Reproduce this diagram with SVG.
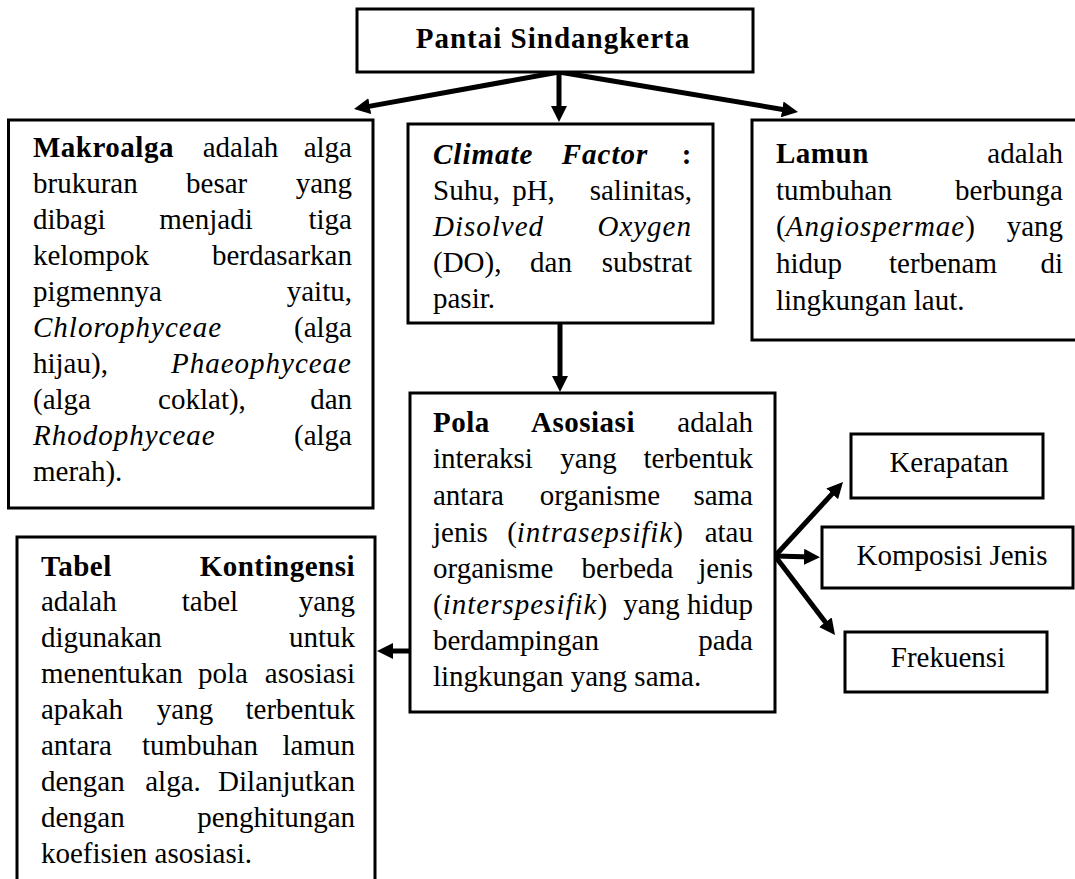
<svg xmlns="http://www.w3.org/2000/svg" width="1075" height="879" viewBox="0 0 1075 879">
<style>
.box{fill:#fff;stroke:#000;stroke-width:3}
.t{font-family:"Liberation Serif","Times New Roman",serif;font-size:29px;fill:#000}
.b{font-weight:bold;letter-spacing:0.5px}
.i{font-style:italic;letter-spacing:1px}
.e{text-anchor:end}
.m{text-anchor:middle}
.conn{stroke:#000;stroke-width:5;fill:none;marker-end:url(#ah)}
</style>
<defs>
<marker id="ah" markerWidth="16" markerHeight="16" refX="8" refY="8" orient="auto" markerUnits="userSpaceOnUse">
<path d="M0,0 L16,8 L0,16 Z" fill="#000"/>
</marker>
</defs>
<rect width="1075" height="879" fill="#fff"/>

<g id="connectors">
<line class="conn" x1="559" y1="72" x2="361.9" y2="107.6"/>
<line class="conn" x1="559" y1="72" x2="559" y2="114"/>
<line class="conn" x1="559" y1="72" x2="790.1" y2="110.7"/>
<line class="conn" x1="560" y1="323" x2="560" y2="384"/>
<line class="conn" x1="410" y1="651" x2="385" y2="651"/>
<line class="conn" x1="775" y1="556" x2="837.6" y2="487.9"/>
<line class="conn" x1="775" y1="556" x2="812" y2="557"/>
<line class="conn" x1="775" y1="556" x2="830.2" y2="628.6"/>
</g>

<g id="pantai">
<rect class="box" x="357" y="9" width="396" height="63"/>
<text class="t b m" x="553" y="48" style="letter-spacing:1px">Pantai Sindangkerta</text>
</g>

<g id="makroalga">
<rect class="box" x="8.5" y="120" width="364.5" height="388"/>
<text class="t b" x="33" y="157">Makroalga</text>
<text class="t m" x="240.5" y="157">adalah</text>
<text class="t e" x="352" y="157">alga</text>
<text class="t" x="33" y="193">brukuran</text>
<text class="t m" x="216.7" y="193">besar</text>
<text class="t e" x="352" y="193">yang</text>
<text class="t" x="33" y="229">dibagi</text>
<text class="t m" x="206" y="229">menjadi</text>
<text class="t e" x="352" y="229">tiga</text>
<text class="t" x="33" y="265">kelompok</text>
<text class="t e" x="352" y="265">berdasarkan</text>
<text class="t" x="33" y="301">pigmennya</text>
<text class="t e" x="352" y="301">yaitu,</text>
<text class="t i" x="33" y="337">Chlorophyceae</text>
<text class="t e" x="352" y="337">(alga</text>
<text class="t" x="33" y="373">hijau),</text>
<text class="t i e" x="352" y="373">Phaeophyceae</text>
<text class="t" x="33" y="409">(alga</text>
<text class="t m" x="202" y="409">coklat),</text>
<text class="t e" x="352" y="409">dan</text>
<text class="t i" x="33" y="445">Rhodophyceae</text>
<text class="t e" x="352" y="445">(alga</text>
<text class="t" x="33" y="481">merah).</text>
</g>

<g id="climate">
<rect class="box" x="408" y="124" width="305" height="199"/>
<text class="t b i" x="433" y="164">Climate</text>
<text class="t b i m" x="605" y="164">Factor</text>
<text class="t b e" x="692" y="164">:</text>
<text class="t" x="433" y="200">Suhu,</text>
<text class="t m" x="533.5" y="200">pH,</text>
<text class="t e" x="692" y="200">salinitas,</text>
<text class="t i" x="433" y="236">Disolved</text>
<text class="t i e" x="692" y="236">Oxygen</text>
<text class="t" x="433" y="272">(DO),</text>
<text class="t m" x="551" y="272">dan</text>
<text class="t e" x="692" y="272">substrat</text>
<text class="t" x="433" y="308">pasir.</text>
</g>

<g id="lamun">
<rect class="box" x="752" y="120" width="330" height="220"/>
<text class="t b" x="776" y="163">Lamun</text>
<text class="t e" x="1063" y="163">adalah</text>
<text class="t" x="776" y="200">tumbuhan</text>
<text class="t e" x="1063" y="200">berbunga</text>
<text class="t" x="776" y="236">(<tspan class="i">Angiospermae</tspan>)</text>
<text class="t e" x="1063" y="236">yang</text>
<text class="t" x="776" y="273">hidup</text>
<text class="t m" x="943" y="273">terbenam</text>
<text class="t e" x="1063" y="273">di</text>
<text class="t" x="776" y="310">lingkungan laut.</text>
</g>

<g id="pola">
<rect class="box" x="410" y="393" width="365" height="319"/>
<text class="t b" x="433" y="432">Pola</text>
<text class="t b m" x="583" y="432">Asosiasi</text>
<text class="t e" x="753" y="432">adalah</text>
<text class="t" x="433" y="468">interaksi</text>
<text class="t m" x="588.5" y="468">yang</text>
<text class="t e" x="753" y="468">terbentuk</text>
<text class="t" x="433" y="505">antara</text>
<text class="t m" x="600" y="505">organisme</text>
<text class="t e" x="753" y="505">sama</text>
<text class="t" x="433" y="542">jenis</text>
<text class="t m" x="595" y="542">(<tspan class="i">intrasepsifik</tspan>)</text>
<text class="t e" x="753" y="542">atau</text>
<text class="t" x="433" y="578">organisme</text>
<text class="t m" x="627.5" y="578">berbeda</text>
<text class="t e" x="753" y="578">jenis</text>
<text class="t" x="433" y="614">(<tspan class="i">interspesifik</tspan>)</text>
<text class="t m" x="651.5" y="614">yang</text>
<text class="t e" x="753" y="614">hidup</text>
<text class="t" x="433" y="650">berdampingan</text>
<text class="t e" x="753" y="650">pada</text>
<text class="t" x="433" y="686">lingkungan yang sama.</text>
</g>

<g id="tabel">
<rect class="box" x="17" y="537" width="358" height="360"/>
<text class="t b" x="41" y="576">Tabel</text>
<text class="t b e" x="355" y="576">Kontingensi</text>
<text class="t" x="41" y="611">adalah</text>
<text class="t m" x="210" y="611">tabel</text>
<text class="t e" x="355" y="611">yang</text>
<text class="t" x="41" y="647">digunakan</text>
<text class="t e" x="355" y="647">untuk</text>
<text class="t" x="41" y="683">menentukan</text>
<text class="t m" x="223" y="683">pola</text>
<text class="t e" x="355" y="683">asosiasi</text>
<text class="t" x="41" y="719">apakah</text>
<text class="t m" x="185" y="719">yang</text>
<text class="t e" x="355" y="719">terbentuk</text>
<text class="t" x="41" y="755">antara</text>
<text class="t m" x="200" y="755">tumbuhan</text>
<text class="t e" x="355" y="755">lamun</text>
<text class="t" x="41" y="791">dengan</text>
<text class="t m" x="173" y="791">alga.</text>
<text class="t e" x="355" y="791">Dilanjutkan</text>
<text class="t" x="41" y="827">dengan</text>
<text class="t e" x="355" y="827">penghitungan</text>
<text class="t" x="41" y="863">koefisien asosiasi.</text>
</g>

<g id="kerapatan">
<rect class="box" x="851" y="434" width="192" height="64"/>
<text class="t m" x="949" y="472">Kerapatan</text>
</g>

<g id="komposisi">
<rect class="box" x="822" y="527" width="251" height="61"/>
<text class="t m" x="952" y="565">Komposisi Jenis</text>
</g>

<g id="frekuensi">
<rect class="box" x="845" y="632" width="202" height="60"/>
<text class="t m" x="948" y="667">Frekuensi</text>
</g>
</svg>
